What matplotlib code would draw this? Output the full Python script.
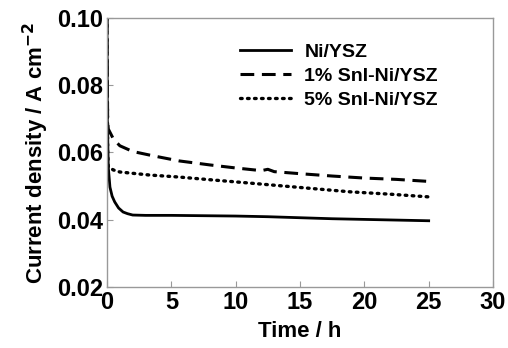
import matplotlib
matplotlib.use("Agg")
import matplotlib.pyplot as plt

plt.rcParams['font.family'] = ['Liberation Sans', 'DejaVu Sans']
plt.rcParams['font.weight'] = 'bold'
plt.rcParams['mathtext.default'] = 'bf'

# Ni/YSZ
t_ni = [0.0, 0.03, 0.1, 0.23, 0.4, 0.6, 0.9, 1.25, 1.6, 2.0, 3.0, 5.0, 7.5, 10.0, 12.5, 15.0, 17.5, 20.0, 22.5, 25.0]
j_ni = [0.100, 0.070, 0.0557, 0.0497, 0.0470, 0.0453, 0.0435, 0.0423, 0.0418, 0.0414, 0.0413, 0.0413, 0.0412, 0.0411, 0.0409, 0.0406, 0.0403, 0.0401, 0.0399, 0.0397]

# 1% SnI-Ni/YSZ
t_1 = [0.0, 0.05, 0.1, 0.5, 1.0, 2.0, 3.6, 5.6, 8.0, 10.0, 12.0, 12.5, 13.0, 15.0, 17.5, 20.0, 22.5, 25.0]
j_1 = [0.100, 0.070, 0.0670, 0.0640, 0.0620, 0.0603, 0.0590, 0.0575, 0.0563, 0.0554, 0.0546, 0.0550, 0.0543, 0.0537, 0.0530, 0.0524, 0.0520, 0.0514]

# 5% SnI-Ni/YSZ
t_5 = [0.0, 0.05, 0.1, 0.5, 1.0, 3.3, 5.6, 8.0, 11.1, 15.0, 18.9, 22.0, 25.0]
j_5 = [0.100, 0.060, 0.0557, 0.0548, 0.0542, 0.0533, 0.0527, 0.0519, 0.0509, 0.0496, 0.0483, 0.0476, 0.0468]

labels = ['Ni/YSZ', '1% SnI-Ni/YSZ', '5% SnI-Ni/YSZ']
xticks = [0, 5, 10, 15, 20, 25, 30]
yticks = [0.02, 0.04, 0.06, 0.08, 0.10]
ytick_labels = ['0.02', '0.04', '0.06', '0.08', '0.10']

fig = plt.figure(figsize=(5.08, 3.48), dpi=100)
ax = fig.add_axes([0.2106, 0.1753, 0.7599, 0.7730])

ax.plot(t_ni, j_ni, color='black', lw=2.0, linestyle='-', label=labels[0])
ax.plot(t_1, j_1, color='black', lw=2.2, linestyle=(0, (4.5, 2.5)), label=labels[1])
ax.plot(t_5, j_5, color='black', lw=2.4, linestyle=(0, (0.5, 1.6)), dash_capstyle='round',
        label=labels[2])

ax.set_xlim(0, 30)
ax.set_ylim(0.02, 0.10)
ax.set_xticks(xticks)
ax.set_yticks(yticks)
ax.set_yticklabels(ytick_labels)
ax.tick_params(direction='in', length=4, width=0.8, color='#999999', labelsize=17, pad=3)
for lab in ax.get_xticklabels() + ax.get_yticklabels():
    lab.set_fontweight('bold')
for s in ax.spines.values():
    s.set_color('#999999')
    s.set_linewidth(1.0)

ax.set_xlabel('Time / h', fontsize=16, fontweight='bold', labelpad=5)
ax.set_ylabel('Current density / A cm$^{-2}$', fontsize=16, fontweight='bold', labelpad=4)

leg = ax.legend(loc='upper left', bbox_to_anchor=(0.345, 0.905), frameon=False,
                fontsize=14, handlelength=2.6, handletextpad=0.7, labelspacing=0.33,
                borderaxespad=0, borderpad=0)
for t in leg.get_texts():
    t.set_fontweight('bold')

fig.savefig('out.png', dpi=100)
